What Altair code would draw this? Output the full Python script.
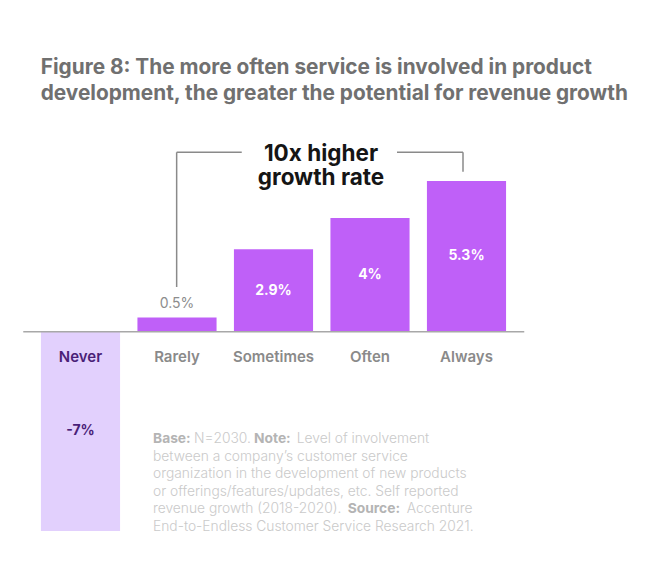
import altair as alt
import pandas as pd

# ---- data ----
categories = ["Never", "Rarely", "Sometimes", "Often", "Always"]
values = [-7.0, 0.5, 2.9, 4.0, 5.3]
value_labels = ["-7%", "0.5%", "2.9%", "4%", "5.3%"]

title_lines = [
    "Figure 8: The more often service is involved in product",
    "development, the greater the potential for revenue growth",
]
annotation_lines = ["10x higher", "growth rate"]

foot_line1 = [("Base:", True), ("N=2030.", False), ("Note:", True), ("Level of involvement", False)]
foot_mid = [
    "between a company\u2019s customer service",
    "organization in the development of new products",
    "or offerings/features/updates, etc. Self reported",
]
foot_line5 = [("revenue growth (2018-2020).", False), ("Source:", True), ("Accenture", False)]
foot_last = "End-to-Endless Customer Service Research 2021."

df = pd.DataFrame({"category": categories, "value": values, "label": value_labels})
zero_df = pd.DataFrame({"z": [0]})
one = pd.DataFrame({"a": [1]})

FONT = "Inter"
PURPLE = "#bf60f8"
LAVENDER = "#e2d0fd"
DARK = "#4a1f78"
GREY_LABEL = "#8a8a8a"

xscale = alt.Scale(domain=categories, paddingInner=0.18, paddingOuter=0.09)
yscale = alt.Scale(domain=[-7, 5.3], nice=False, zero=False)
X = alt.X("category:N", sort=categories, axis=None, scale=xscale)

bars = alt.Chart(df).mark_bar().encode(
    x=X,
    y=alt.Y("value:Q", scale=yscale, axis=None),
    y2=alt.datum(0),
    color=alt.condition("datum.category == 'Never'", alt.value(LAVENDER), alt.value(PURPLE)),
)

baseline = alt.Chart(zero_df).mark_rule(color="#a8a8a8", strokeWidth=1.5).encode(
    x=alt.value(-9), x2=alt.value(492), y=alt.Y("z:Q", scale=yscale, axis=None)
)

mid_labels = alt.Chart(df).transform_filter("datum.category != 'Rarely'").transform_calculate(
    mid="datum.value / 2"
).mark_text(font=FONT, fontSize=14, fontWeight=700, baseline="middle").encode(
    x=X,
    y=alt.Y("mid:Q", scale=yscale, axis=None),
    text="label:N",
    color=alt.condition("datum.category == 'Never'", alt.value(DARK), alt.value("white")),
)

top_label = alt.Chart(df).transform_filter("datum.category == 'Rarely'").mark_text(
    font=FONT, fontSize=14, fontWeight=400, baseline="middle", dy=-14, color="#8d8d8d"
).encode(x=X, y=alt.Y("value:Q", scale=yscale, axis=None), text="label:N")

cat_labels = alt.Chart(df).mark_text(font=FONT, fontSize=15, fontWeight=600, baseline="middle").encode(
    x=X,
    y=alt.value(176),
    text="category:N",
    color=alt.condition("datum.category == 'Never'", alt.value(DARK), alt.value(GREY_LABEL)),
)

layers = [bars, baseline, mid_labels, top_label, cat_labels]

# title
for i, line in enumerate(title_lines):
    layers.append(
        alt.Chart(one).mark_text(
            font=FONT, fontSize=20.8, fontWeight=700, color="#707070", align="left", baseline="alphabetic"
        ).encode(x=alt.value(8.5), y=alt.value(-107 + 26 * i), text=alt.value(line))
    )

# bracket
BR = "#8a8a8a"
layers.append(alt.Chart(one).mark_rule(color=BR, strokeWidth=1.5).encode(
    x=alt.value(144.4), y=alt.value(106), y2=alt.value(-28.7)))
layers.append(alt.Chart(one).mark_rule(color=BR, strokeWidth=1.5).encode(
    x=alt.value(144.4), x2=alt.value(209.5), y=alt.value(-28.7)))
layers.append(alt.Chart(one).mark_rule(color=BR, strokeWidth=1.5).encode(
    x=alt.value(364.75), x2=alt.value(430.75), y=alt.value(-28.7)))
layers.append(alt.Chart(one).mark_rule(color=BR, strokeWidth=1.5).encode(
    x=alt.value(430.75), y=alt.value(-28.7), y2=alt.value(-9.3)))

for i, line in enumerate(annotation_lines):
    layers.append(
        alt.Chart(one).mark_text(
            font=FONT, fontSize=22.5, fontWeight=700, color="#151515", align="center", baseline="alphabetic"
        ).encode(x=alt.value(288.75), y=alt.value(-20.3 + 24.5 * i), text=alt.value(line))
    )

# footnote
FOOT_REG = "#cacaca"
FOOT_BOLD = "#b4b4b4"
FX = 120.75
FY0 = 258
FDY = 17.6


def foot_text(txt, x, y, bold):
    return alt.Chart(one).mark_text(
        font=FONT, fontSize=13.8, fontWeight=700 if bold else 300,
        color=FOOT_BOLD if bold else FOOT_REG, align="left", baseline="middle",
    ).encode(x=alt.value(x), y=alt.value(y), text=alt.value(txt))


for (txt, bold), x in zip(foot_line1, [FX, 161.75, 221.75, 264.5]):
    layers.append(foot_text(txt, x, FY0, bold))
for i, txt in enumerate(foot_mid):
    layers.append(foot_text(txt, FX, FY0 + FDY * (i + 1), False))
for (txt, bold), x in zip(foot_line5, [FX, 315.5, 374.5]):
    layers.append(foot_text(txt, x, FY0 + FDY * 4, bold))
layers.append(foot_text(foot_last, FX, FY0 + FDY * 5, False))

chart = alt.layer(*layers).properties(
    width=482.5,
    height=350,
    padding={"left": 24.25, "top": 173, "right": 120, "bottom": 30},
    autosize=alt.AutoSizeParams(type="none"),
    background="white",
).configure_view(stroke=None)

chart.save("out.html", embed_options={"renderer": "svg", "actions": False})
